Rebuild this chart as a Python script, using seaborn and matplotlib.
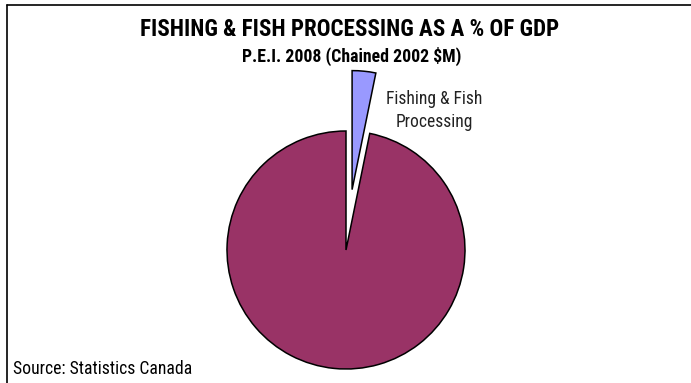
import matplotlib
matplotlib.use("Agg")
import matplotlib.pyplot as plt
import seaborn as sns
from matplotlib.lines import Line2D
from matplotlib import font_manager as fm

sns.set_theme(style="white")

# pick a narrow sans if one is installed
_names = {f.name for f in fm.fontManager.ttflist}
_fam = ['Liberation Sans', 'DejaVu Sans']
_stretch = 'normal'
for cand in ['Liberation Sans Narrow', 'Arial Narrow', 'Roboto Condensed',
             'Open Sans Condensed', 'DejaVu Sans Condensed', 'Noto Sans Condensed']:
    if cand in _names:
        _fam = [cand] + _fam
        break
else:
    for f in fm.fontManager.ttflist:
        if str(f.stretch) in ('condensed', 'semi-condensed', '600', '700') and 'Sans' in f.name:
            _fam = [f.name] + _fam
            _stretch = 'condensed'
            break
plt.rcParams['font.family'] = _fam
plt.rcParams['font.stretch'] = _stretch

# Data
categories = ["Fishing & Fish\nProcessing", "Other industries"]
shares = [3.2, 96.8]
colors = ["#9999FF", "#993366"]
explode_frac = [0.51, 0.0]

title = "FISHING & FISH PROCESSING AS A % OF GDP"
subtitle = "P.E.I. 2008 (Chained 2002 $M)"
source = "Source: Statistics Canada"

W, H = 691, 383
fig = plt.figure(figsize=(W / 100, H / 100), dpi=100)
fig.patch.set_facecolor("white")
ax = fig.add_axes([0, 0, 1, 1])

R = 119
cx, cy = 346, H - 250
ax.pie(shares, colors=colors, explode=[e * R for e in explode_frac],
       startangle=90, counterclock=False, radius=R, center=(cx, cy),
       wedgeprops=dict(edgecolor="black", linewidth=1.1))
ax.set_xlim(0, W)
ax.set_ylim(0, H)
ax.set_aspect("equal")
ax.axis("off")

t_title = fig.text(350 / W, 1 - 29 / H, title, ha="center", va="center",
                   fontsize=13, fontweight="bold", color="black")
t_sub = fig.text(352 / W, 1 - 56 / H, subtitle, ha="center", va="center",
                 fontsize=10, fontweight="bold", color="black")
t_src = fig.text(13 / W, 1 - 369 / H, source, ha="left", va="center",
                 fontsize=10, color="black")
t_l1 = ax.text(434, H - 99, "Fishing & Fish", ha="center", va="center",
               fontsize=11, color="#222222")
t_l2 = ax.text(434, H - 122, "Processing", ha="center", va="center",
               fontsize=11, color="#222222")

# fit text widths to the reference
fig.canvas.draw()
r = fig.canvas.get_renderer()
for t, target in [(t_title, 415), (t_sub, 219), (t_src, 177), (t_l1, 96)]:
    w = t.get_window_extent(r).width
    t.set_fontsize(t.get_fontsize() * target / w)
t_l2.set_fontsize(t_l1.get_fontsize())

# border (top and left visible)
fig.add_artist(Line2D([7 / W, 1], [1 - 4.5 / H, 1 - 4.5 / H], color="black", lw=1.2,
                      transform=fig.transFigure))
fig.add_artist(Line2D([7 / W, 7 / W], [1 - 4.5 / H, 0], color="black", lw=1.2,
                      transform=fig.transFigure))

fig.savefig("out.png", dpi=100)
